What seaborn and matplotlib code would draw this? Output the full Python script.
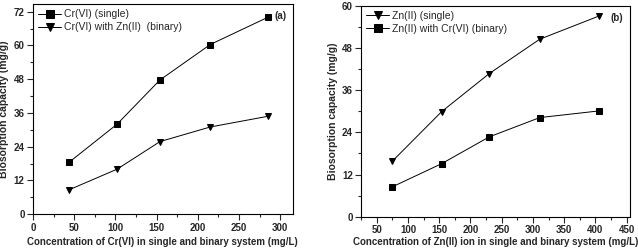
import pandas as pd
import matplotlib.pyplot as plt
import seaborn as sns
from matplotlib.ticker import MultipleLocator, AutoMinorLocator

# panel (a): Cr(VI)
cr_conc = [44, 102, 154, 215, 285]
cr_single = [18.5, 32.0, 47.7, 60.3, 70.0]
cr_binary = [8.7, 16.0, 25.8, 31.0, 34.8]

# panel (b): Zn(II)
zn_conc = [75, 154, 230, 311, 406]
zn_single = [15.8, 29.9, 40.7, 50.5, 57.1]
zn_binary = [8.5, 15.1, 22.7, 28.2, 30.1]

sns.set_style("ticks")
plt.rcParams["font.family"] = ["Liberation Sans", "DejaVu Sans"]

df_a = pd.DataFrame({"x": cr_conc * 2,
                     "y": cr_single + cr_binary,
                     "series": ["Cr(VI) (single)"] * 5 + ["Cr(VI) with Zn(II)  (binary)"] * 5})
df_b = pd.DataFrame({"x": zn_conc * 2,
                     "y": zn_single + zn_binary,
                     "series": ["Zn(II) (single)"] * 5 + ["Zn(II) with Cr(VI) (binary)"] * 5})

fig = plt.figure(figsize=(6.38, 2.52), dpi=100)
ax_a = fig.add_axes([0.0517, 0.150, 0.407, 0.834])
ax_b = fig.add_axes([0.566, 0.140, 0.421, 0.837])


def draw(ax, df, markers, xlim, ylim, xstep, ystep, xlabel, tag, lpad):
    sns.lineplot(data=df, x="x", y="y", hue="series", style="series",
                 markers=markers, dashes=False, palette=["black", "black"],
                 markersize=4.5, linewidth=0.7, markeredgecolor="black", ax=ax)
    ax.set_xlim(*xlim)
    ax.set_ylim(*ylim)
    ax.xaxis.set_major_locator(MultipleLocator(xstep))
    ax.yaxis.set_major_locator(MultipleLocator(ystep))
    ax.xaxis.set_minor_locator(AutoMinorLocator(2))
    ax.yaxis.set_minor_locator(AutoMinorLocator(2))
    ax.tick_params(which="major", direction="out", length=4, width=0.8, labelsize=7, pad=2)
    ax.tick_params(which="minor", direction="out", length=2, width=0.8)
    for lab in ax.get_xticklabels() + ax.get_yticklabels():
        lab.set_fontweight("bold")
    for s in ax.spines.values():
        s.set_linewidth(0.8)
        s.set_color("black")
    ax.set_xlabel(xlabel, fontsize=7, fontweight="bold", labelpad=lpad)
    ax.set_ylabel("Biosorption capacity (mg/g)", fontsize=7.5, fontweight="bold", labelpad=3)
    leg = ax.legend(title=None, loc="upper left", frameon=False, fontsize=7.5,
                    handlelength=2.2, handletextpad=0.3, labelspacing=0.3,
                    borderaxespad=0.3, borderpad=0.2)
    for h in leg.legend_handles:
        h.set_markersize(6)
    ax.text(0.975, 0.965, tag, transform=ax.transAxes, ha="right", va="top",
            fontsize=7, fontweight="bold")


draw(ax_a, df_a, ["s", "v"], (0, 315), (0, 74.7), 50, 12,
     "Concentration of Cr(VI) in single and binary system (mg/L)", "(a)", 3)
draw(ax_b, df_b, ["v", "s"], (25, 455), (0, 60), 50, 12,
     "Concentration of Zn(II) ion in single and binary system (mg/L)", "(b)", 1.5)

fig.savefig("out.png", dpi=100)
